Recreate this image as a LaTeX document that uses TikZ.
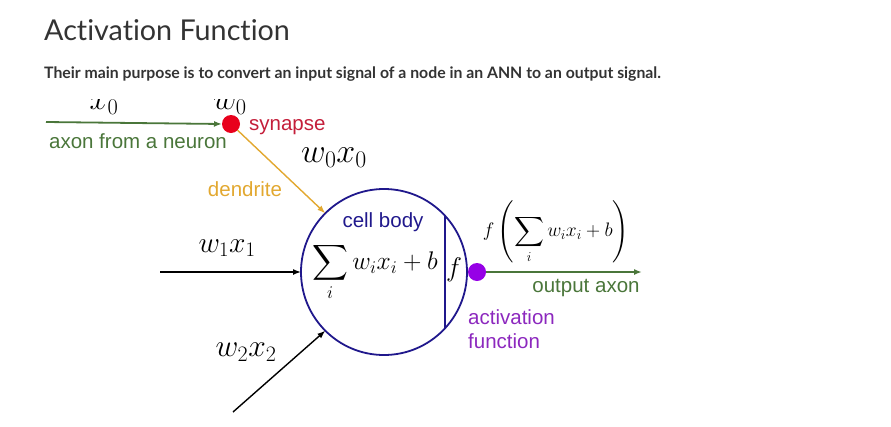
\RequirePackage{fix-cm}
\documentclass[tikz,border=0pt]{standalone}
\usepackage{exscale}
\usepackage[no-math]{fontspec}
\setmainfont{Liberation Sans}
\newfontfamily\latofont[Ligatures=NoCommon]{Lato}
\usetikzlibrary{arrows.meta,positioning}
\definecolor{titlegray}{RGB}{51,51,51}
\definecolor{axongreen}{RGB}{74,118,58}
\definecolor{synred}{RGB}{232,0,28}
\definecolor{syntext}{RGB}{196,30,58}
\definecolor{dendorange}{RGB}{226,168,48}
\definecolor{cellblue}{RGB}{32,24,140}
\definecolor{actpurple}{RGB}{150,0,230}
\definecolor{acttext}{RGB}{140,40,190}
\tikzset{
  >={Latex[length=8pt,width=6pt]},
  lbl/.style={inner sep=0pt,font=\fontsize{20.5}{24.5}\selectfont,text=#1},
  lbl/.default=black,
  mathlbl/.style={inner sep=0pt,font=\fontsize{#1}{#1}\selectfont},
  mathlbl/.default=27,
  dot/.style={circle,fill=#1,inner sep=0pt,outer sep=0pt,minimum size=18pt},
  axon/.style={->,line width=1.8pt,draw=axongreen},
  wire/.style={->,line width=1.4pt,draw=black},
  cell/.style={circle,draw=cellblue,line width=1.8pt,inner sep=0pt,outer sep=0pt,minimum size=166pt},
}
\begin{document}
\begin{tikzpicture}[x=1pt,y=-1pt]
  \useasboundingbox (0,0) rectangle (891,426);
  % heading
  \node[anchor=base west,inner sep=0pt,text=titlegray,font=\latofont\fontsize{28.7}{34}\selectfont] (title) at (44,40) {Activation Function};
  \node[anchor=base west,inner sep=0pt,text=titlegray,font=\latofont\bfseries\fontsize{15.8}{19}\selectfont] (subtitle) at (44,78) {Their main purpose is to convert an input signal of a node in an ANN to an output signal.};
  % labels cut at the top
  \begin{scope}
    \clip (0,99.5) rectangle (891,130);
    \node[mathlbl=32] (x0lab) at (104,105) {$x_0$};
    \node[mathlbl=32] (w0lab) at (230,105) {$w_0$};
  \end{scope}
  % synapse
  \node[dot=synred] (syn) at (231,124) {};
  \coordinate (in0) at (46,122);
  \draw[axon] (in0) -- (syn.west);
  \node[lbl=axongreen] (axonlab) at (138,141) {axon from a neuron};
  \node[lbl=syntext,anchor=west] (synlab) at (249,127) {synapse};
  \node[mathlbl=34] (w0x0) at (334,158) {$w_0x_0$};
  \node[lbl=dendorange] (dendlab) at (245,189) {dendrite};
  % cell body
  \node[cell] (cell) at (384,272) {};
  \draw[cellblue,line width=1.6pt] (cell.43.7) -- (cell.-43.7);
  \node[lbl=cellblue] (celllab) at (383,222) {cell body};
  \node[mathlbl=25.5,anchor=west] (sumlab) at (312,272) {$\displaystyle\sum_i w_ix_i+b$};
  \node[mathlbl] (flab) at (454,270) {$f$};
  \draw[->,line width=1.4pt,draw=dendorange] (syn) -- (cell.135);
  % inputs
  \coordinate (in1) at (160,272);
  \coordinate (in2) at (233,412);
  \draw[wire] (in1) -- (cell.west);
  \draw[wire] (in2) -- (cell.225);
  \node[mathlbl=29.5] (w1x1) at (227,248) {$w_1x_1$};
  \node[mathlbl=31.5] (w2x2) at (246,352) {$w_2x_2$};
  % output
  \node[dot=actpurple] (act) at (477,272) {};
  \coordinate (out) at (642,272);
  \draw[axon] (act.east) -- (out);
  \node[mathlbl=19.5] (outlab) at (556,232) {$\displaystyle f\left(\sum_i w_ix_i+b\right)$};
  \node[lbl=axongreen] (axonout) at (586,288) {output axon};
  \node[lbl=acttext,anchor=west,align=left] (actlab) at (468,329) {activation\\function};
\end{tikzpicture}
\end{document}
